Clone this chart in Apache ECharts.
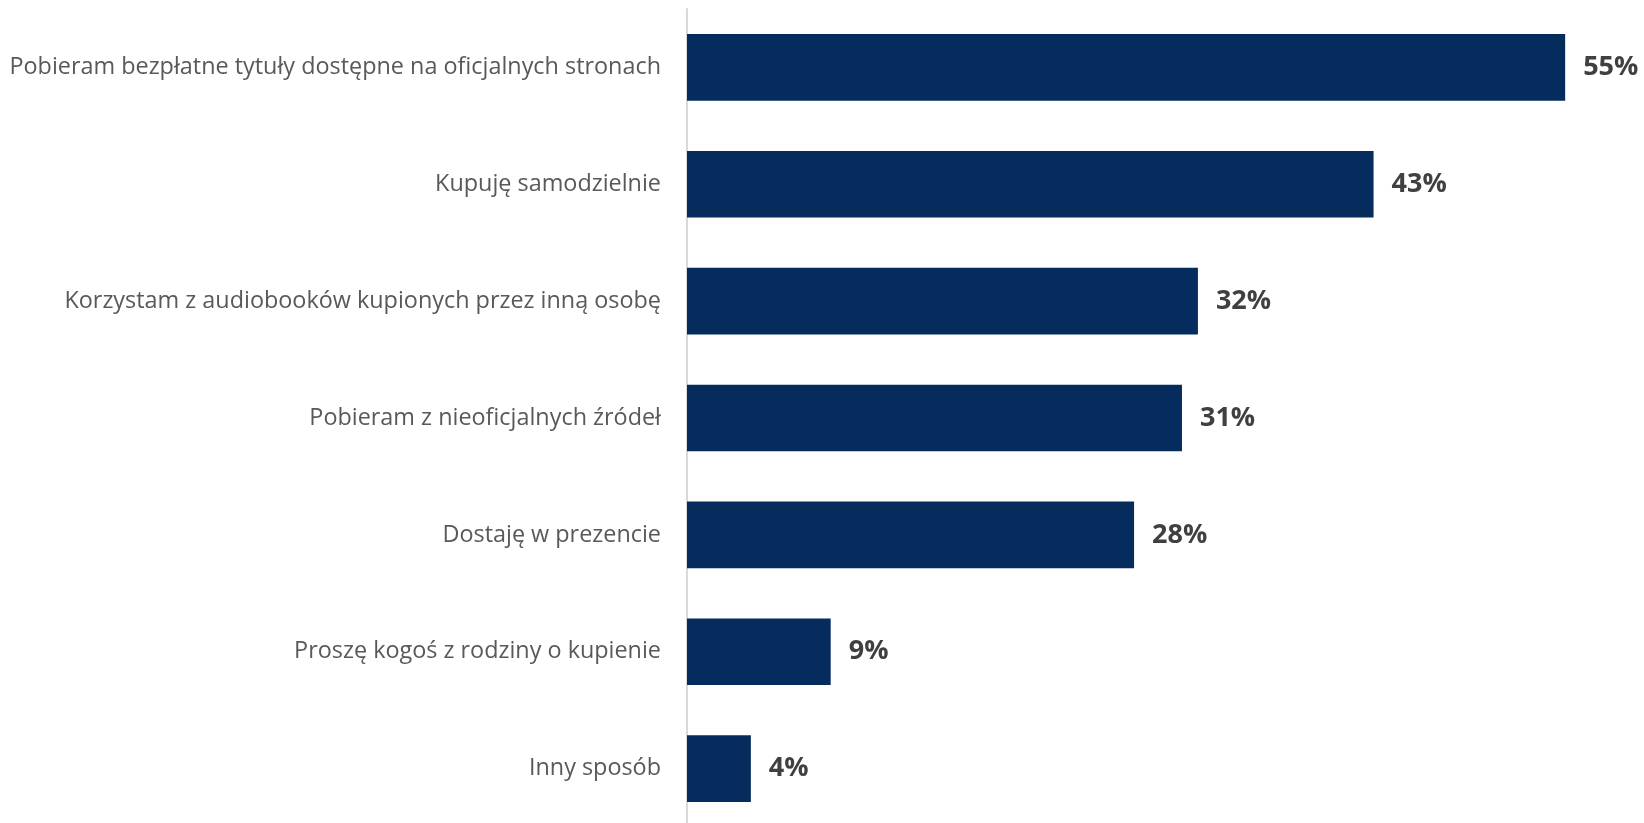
<!DOCTYPE html>
<html><head><meta charset="utf-8">
<script src="https://cdn.jsdelivr.net/npm/echarts@6/dist/echarts.min.js"></script>
<style>html,body{margin:0;padding:0;background:#fff}#c{width:1644px;height:823px}</style>
</head><body><div id="c"></div>
<script>
const categories = [
  "Pobieram bezpłatne tytuły dostępne na oficjalnych stronach",
  "Kupuję samodzielnie",
  "Korzystam z audiobooków kupionych przez inną osobę",
  "Pobieram z nieoficjalnych źródeł",
  "Dostaję w prezencie",
  "Proszę kogoś z rodziny o kupienie",
  "Inny sposób"
];
const values = [55, 43, 32, 31, 28, 9, 4];

const chart = echarts.init(document.getElementById('c'));
chart.setOption({
  animation: false,
  grid: { left: 687, top: 9, width: 958, height: 818, containLabel: false, outerBoundsMode: 'none' },
  xAxis: { type: 'value', min: 0, max: 60, show: false },
  yAxis: {
    type: 'category', inverse: true, data: categories,
    axisLine: { show: true, lineStyle: { color: '#d9d9d9', width: 2 } },
    axisTick: { show: false },
    axisLabel: { color: '#595959', fontFamily: 'Open Sans', fontSize: 23.4, margin: 26,
      padding: [9, 0, 0, 0] }
  },
  series: [{
    type: 'bar', data: values, barCategoryGap: '43%',
    itemStyle: { color: '#062c5e' },
    label: { show: true, position: 'right', distance: 18, formatter: '{c}%',
      color: '#404040', fontFamily: 'Open Sans', fontWeight: 'bold', fontSize: 27,
      padding: [5, 0, 0, 0] }
  }]
});
</script></body></html>
